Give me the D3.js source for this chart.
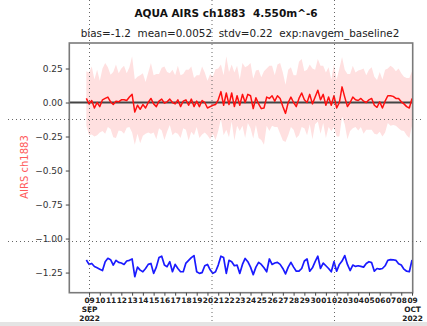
<html>
<head>
    <meta charset="utf-8">
    <script src="https://d3js.org/d3.v7.min.js"></script>
    <style type="text/css">
        body { margin: 0; background: #fff; }
        text { font-family: "DejaVu Sans", sans-serif; white-space: pre; }
        .yaxis text { font-size: 9px; fill: #333; }
        .xaxis text { font-size: 7.4px; font-weight: bold; fill: #222; }
        .tick line { stroke: #444; }
        .domain { display: none; }
    </style>
</head>
<body>
    <svg id="chart"></svg>
    <script>
        var W = 427, H = 326;

        // red: departure, 6-hourly from 2022-09-08 18Z
        var omf = [
            0.03,-0.01,0.015,-0.04,0.0,-0.03,0.02,0.03,0.04,0.005,
            -0.015,0.01,0.005,0.02,0.02,0.015,0.04,0.06,-0.07,-0.02,
            -0.05,-0.015,-0.04,0.0,0.03,-0.01,-0.03,0.01,0.025,-0.005,
            0.005,0.025,0.0,-0.01,0.02,-0.03,0.01,0.02,-0.02,0.025,
            -0.03,0.01,-0.03,0.015,0.0,-0.04,-0.03,-0.02,-0.015,0.02,
            0.08,-0.02,0.07,-0.015,0.07,-0.03,0.05,-0.02,0.06,0.0,
            0.06,0.05,-0.045,0.035,-0.01,-0.045,-0.04,0.04,0.03,0.05,
            0.01,0.05,0.03,-0.03,-0.08,0.0,0.04,0.0,-0.03,0.03,
            0.07,0.02,0.0,0.06,-0.01,0.04,0.09,0.02,0.06,-0.02,
            0.04,-0.02,0.05,-0.04,0.0,0.115,0.04,-0.03,0.0,0.04,
            0.02,0.015,0.03,0.01,0.0,0.02,0.03,-0.02,-0.035,0.005,
            -0.04,0.01,0.05,0.05,0.045,0.03,0.03,0.005,-0.01,-0.03,
            -0.04,0.03
        ];

        // blue: bias series
        var bias = [
            -1.158,-1.19,-1.183,-1.205,-1.215,-1.225,-1.235,-1.17,-1.145,-1.155,
            -1.195,-1.16,-1.175,-1.18,-1.19,-1.165,-1.16,-1.15,-1.28,-1.21,
            -1.232,-1.244,-1.22,-1.19,-1.183,-1.256,-1.21,-1.14,-1.13,-1.195,
            -1.207,-1.17,-1.244,-1.19,-1.22,-1.244,-1.244,-1.18,-1.16,-1.14,
            -1.125,-1.244,-1.256,-1.25,-1.2,-1.19,-1.23,-1.256,-1.244,-1.195,
            -1.13,-1.14,-1.256,-1.16,-1.17,-1.2,-1.195,-1.256,-1.19,-1.146,
            -1.17,-1.21,-1.265,-1.21,-1.175,-1.19,-1.215,-1.244,-1.15,-1.19,
            -1.18,-1.175,-1.19,-1.22,-1.26,-1.21,-1.175,-1.21,-1.24,-1.24,
            -1.22,-1.165,-1.15,-1.24,-1.215,-1.17,-1.13,-1.22,-1.18,-1.2,
            -1.22,-1.244,-1.17,-1.24,-1.19,-1.165,-1.125,-1.19,-1.235,-1.195,
            -1.205,-1.2,-1.205,-1.21,-1.183,-1.17,-1.177,-1.24,-1.22,-1.225,
            -1.22,-1.2,-1.16,-1.155,-1.156,-1.16,-1.185,-1.195,-1.225,-1.24,
            -1.244,-1.158
        ];

        // spread of the shaded band
        var stdv = [
            0.20,0.23,0.25,0.21,0.24,0.19,0.23,0.26,0.22,0.20,
            0.24,0.27,0.21,0.23,0.25,0.20,0.22,0.28,0.24,0.21,
            0.25,0.23,0.19,0.22,0.26,0.21,0.24,0.20,0.23,0.27,
            0.22,0.19,0.24,0.21,0.25,0.23,0.20,0.22,0.26,0.24,
            0.21,0.19,0.23,0.25,0.22,0.20,0.24,0.21,0.26,0.23,
            0.20,0.22,0.27,0.24,0.21,0.25,0.22,0.19,0.23,0.26,
            0.21,0.24,0.22,0.20,0.25,0.23,0.27,0.21,0.24,0.22,
            0.19,0.23,0.26,0.25,0.21,0.24,0.22,0.20,0.23,0.27,
            0.25,0.21,0.24,0.22,0.26,0.20,0.23,0.25,0.21,0.24,
            0.22,0.19,0.23,0.21,0.25,0.22,0.20,0.24,0.21,0.23,
            0.20,0.22,0.21,0.24,0.20,0.22,0.23,0.21,0.20,0.22,
            0.21,0.23,0.20,0.22,0.21,0.20,0.22,0.21,0.20,0.21,
            0.22,0.20
        ];

        var yTicks = [0.25, 0.0, -0.25, -0.5, -0.75, -1.0, -1.25];
        var titleText = "AQUA AIRS ch1883  4.550m^-6";
        var subText = "bias=-1.2  mean=0.0052  stdv=0.22  exp:navgem_baseline2";
        var yLabel = "AIRS ch1883";

        var times = d3.utcHour.every(6).range(new Date(Date.UTC(2022, 8, 8, 18)), new Date(Date.UTC(2022, 9, 9, 6)));
        var days = d3.utcDay.range(new Date(Date.UTC(2022, 8, 9)), new Date(Date.UTC(2022, 9, 9, 1)));

        var L = 69.3, R = 412.7, T = 43, B = 292.7;

        var x = d3.scaleUtc()
            .domain([new Date(Date.UTC(2022, 8, 7, 4)), new Date(Date.UTC(2022, 9, 9, 1, 30))])
            .range([L, R]);
        var y = d3.scaleLinear().domain([0.4375, -1.398]).range([T, B]);

        var svg = d3.select("#chart").attr("width", W).attr("height", H);

        var rows = times.map(function(t, i){
            return { t: t, v: omf[i], b: bias[i], s: stdv[i] };
        });

        var plot = svg.append("g");

        plot.append("path")
            .datum(rows)
            .attr("fill", "#ffe0e0")
            .attr("d", d3.area()
                .x(function(d){ return x(d.t); })
                .y0(function(d){ return y(d.v - d.s); })
                .y1(function(d){ return y(d.v + d.s); }));

        plot.append("line")
            .attr("x1", L).attr("x2", R)
            .attr("y1", y(0)).attr("y2", y(0))
            .attr("stroke", "#444").attr("stroke-width", 2);

        plot.append("path")
            .datum(rows)
            .attr("fill", "none").attr("stroke", "#ff1010").attr("stroke-width", 1.5)
            .attr("stroke-linejoin", "round")
            .attr("d", d3.line()
                .x(function(d){ return x(d.t); })
                .y(function(d){ return y(d.v); }));

        plot.append("path")
            .datum(rows)
            .attr("fill", "none").attr("stroke", "#1a1aff").attr("stroke-width", 1.7)
            .attr("stroke-linejoin", "round")
            .attr("d", d3.line()
                .x(function(d){ return x(d.t); })
                .y(function(d){ return y(d.b); }));

        // frame
        svg.append("rect")
            .attr("x", L).attr("y", T).attr("width", R - L).attr("height", B - T)
            .attr("fill", "none").attr("stroke", "#7a7a7a").attr("stroke-width", 1.6);

        var yAxis = svg.append("g").attr("class", "yaxis")
            .attr("transform", "translate(" + L + ",0)")
            .call(d3.axisLeft(y).tickValues(yTicks).tickFormat(d3.format(".2f")).tickSize(3.5).tickPadding(3));

        var xAxis = svg.append("g").attr("class", "xaxis")
            .attr("transform", "translate(0," + B + ")")
            .call(d3.axisBottom(x).tickValues(days).tickFormat(d3.utcFormat("%d")).tickSize(3).tickPadding(2));

        xAxis.selectAll(".tick text").each(function(d, i){
            if (i === 0 || i === days.length - 1) {
                var t = d3.select(this);
                t.append("tspan").attr("x", 0).attr("dy", "1.2em").text(d3.utcFormat("%b")(d).toUpperCase());
                t.append("tspan").attr("x", 0).attr("dy", "1.2em").text(d3.utcFormat("%Y")(d));
            }
        });

        svg.append("text")
            .attr("x", 226).attr("y", 17)
            .attr("text-anchor", "middle")
            .attr("font-size", 10.5).attr("font-weight", "bold").attr("fill", "#111")
            .text(titleText);

        svg.append("text")
            .attr("x", 240).attr("y", 37)
            .attr("text-anchor", "middle")
            .attr("font-size", 10.4).attr("fill", "#222")
            .text(subText);

        svg.append("text")
            .attr("transform", "translate(28,167) rotate(-90)")
            .attr("text-anchor", "middle")
            .attr("font-size", 10).attr("fill", "#ff5a5a")
            .text(yLabel);

        // dotted guide lines laid over the picture
        [89.5, 212, 334.5].forEach(function(gx){
            svg.append("line")
                .attr("x1", gx).attr("x2", gx).attr("y1", 0).attr("y2", H)
                .attr("stroke", "#666").attr("stroke-width", 1).attr("stroke-dasharray", "1,3");
        });
        [119.5, 241.5].forEach(function(gy){
            svg.append("line")
                .attr("x1", 8).attr("x2", 423).attr("y1", gy).attr("y2", gy)
                .attr("stroke", "#666").attr("stroke-width", 1).attr("stroke-dasharray", "1,3");
        });

        svg.append("rect")
            .attr("x", 0).attr("y", 322).attr("width", W).attr("height", 4)
            .attr("fill", "#e4e4e4");
    </script>
</body>
</html>
